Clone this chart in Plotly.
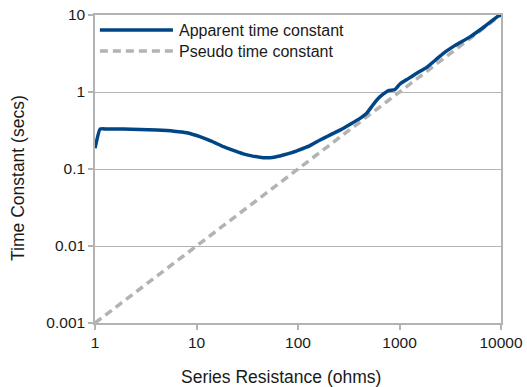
import plotly.graph_objects as go

# Series resistance (ohms) vs. measured apparent time constant (secs)
resistance = [1, 1.12, 1.3, 1.9, 4.05, 6.0, 8.0, 10.8, 14, 18.4, 22, 28.9, 35, 45.5, 58,
              71.7, 85, 100, 130, 165, 200, 259, 330, 408, 475, 532, 575, 620, 700,
              777, 903, 1011, 1200, 1477, 1853, 2300, 2705, 3500, 4950, 7000, 9400, 10000]
apparent_tc = [0.186, 0.33, 0.331, 0.33, 0.32, 0.31, 0.296, 0.263, 0.23, 0.195, 0.178, 0.157,
               0.148, 0.14, 0.142, 0.152, 0.162, 0.175, 0.2, 0.238, 0.27, 0.32, 0.385,
               0.455, 0.53, 0.645, 0.74, 0.83, 0.95, 1.04, 1.08, 1.27, 1.47, 1.75, 2.09,
               2.65, 3.18, 4.0, 5.2, 7.2, 9.7, 10.0]

# Pseudo time constant: straight reference line
pseudo_r = [1, 10000]
pseudo_tc = [0.001, 10]

x_ticks = [1, 10, 100, 1000, 10000]
x_labels = ["1", "10", "100", "1000", "10000"]
y_ticks = [0.001, 0.01, 0.1, 1, 10]
y_labels = ["0.001", "0.01", "0.1", "1", "10"]

BLUE = "#004586"
GREY = "#b3b3b3"
TEXT = "#1a1a1a"
FONT = "Liberation Sans, Arial, sans-serif"

fig = go.Figure()
fig.add_trace(go.Scatter(x=pseudo_r, y=pseudo_tc, mode="lines",
                         name="Pseudo time constant",
                         line=dict(color=GREY, width=3.5, dash="8px,5px")))
fig.add_trace(go.Scatter(x=resistance, y=apparent_tc, mode="lines",
                         name="Apparent time constant",
                         line=dict(color=BLUE, width=3.5, shape="spline", smoothing=0.35)))

# Legend drawn in the top-left corner of the plot area
legend_rows = [("Apparent time constant", BLUE, "solid", 0.951),
               ("Pseudo time constant", GREY, "8px,5px", 0.883)]
for label, color, dash, yy in legend_rows:
    fig.add_shape(type="line", xref="paper", yref="paper",
                  x0=0.012, x1=0.192, y0=yy, y1=yy,
                  line=dict(color=color, width=3.5, dash=dash))
    fig.add_annotation(xref="paper", yref="paper", x=0.202, y=yy, text=label,
                       showarrow=False, xanchor="left", yanchor="middle",
                       font=dict(family=FONT, size=16, color=TEXT))

# Axis titles
fig.add_annotation(xref="paper", yref="paper", x=0.459, y=0, yshift=-54,
                   text="Series Resistance (ohms)", showarrow=False,
                   xanchor="center", yanchor="middle",
                   font=dict(family=FONT, size=17.5, color=TEXT))
fig.add_annotation(xref="paper", yref="paper", x=0, y=0.471, xshift=-77,
                   text="Time Constant (secs)", showarrow=False, textangle=-90,
                   xanchor="center", yanchor="middle",
                   font=dict(family=FONT, size=17.5, color=TEXT))

axis_common = dict(type="log", showline=True, linecolor=GREY, linewidth=1.5,
                   mirror=True, ticks="outside", ticklen=5, tickcolor=GREY,
                   tickwidth=1.5, zeroline=False, automargin=False,
                   tickfont=dict(family=FONT, size=15.5, color=TEXT))

fig.update_xaxes(range=[0, 4], tickvals=x_ticks, ticktext=x_labels, showgrid=False,
                 **axis_common)
fig.update_yaxes(range=[-3, 1], tickvals=y_ticks, ticktext=y_labels, showgrid=True,
                 gridcolor=GREY, gridwidth=1.2, **axis_common)

fig.update_layout(width=527, height=387, showlegend=False,
                  margin=dict(l=95, r=26, t=15, b=64),
                  paper_bgcolor="white", plot_bgcolor="white",
                  font=dict(family=FONT))

fig.write_html("out.html")
